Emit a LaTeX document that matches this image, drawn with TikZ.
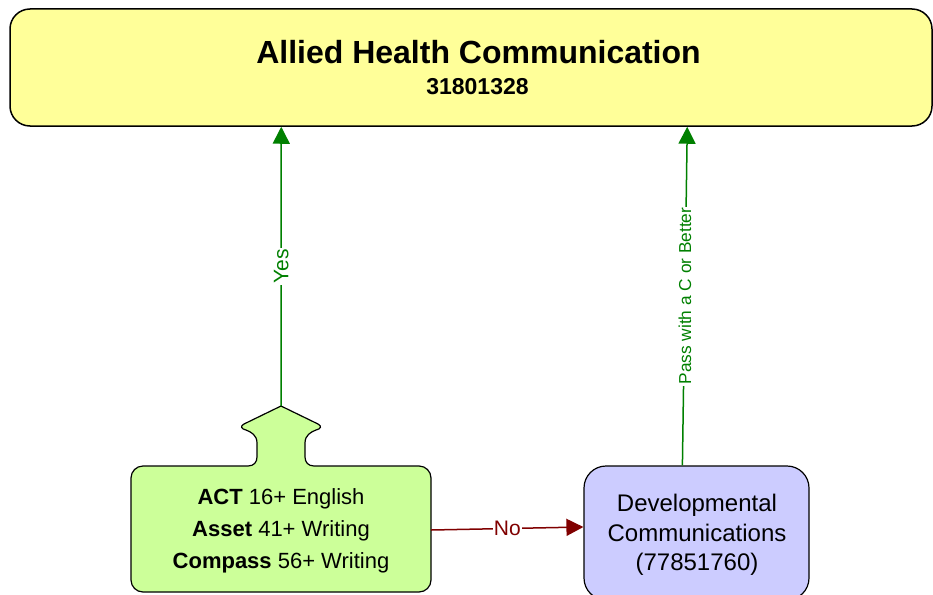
\documentclass[tikz,border=0pt]{standalone}
\usepackage{fontspec}
\setmainfont{Liberation Sans}
\usetikzlibrary{arrows.meta,calc}
\definecolor{topfill}{HTML}{FFFF99}
\definecolor{greenfill}{HTML}{CCFF99}
\definecolor{bluefill}{HTML}{CCCCFF}
\definecolor{yesgreen}{HTML}{008000}
\definecolor{nored}{HTML}{800000}
\tikzset{
  box/.style={draw=black, line width=1.5pt},
  conn/.style={line width=1.5pt, -{Triangle[length=17pt,width=17pt]}},
  lbl/.style={fill=white, inner sep=1pt},
  txt/.style={inner sep=0pt, align=center}
}
\begin{document}
\begin{tikzpicture}[x=1pt,y=-1pt]
\useasboundingbox (0,0) rectangle (933,594);
\clip (0,0) rectangle (933,594);
% top box
\node[box, fill=topfill, rounded corners=20pt, minimum width=922pt, minimum height=117pt, inner sep=0pt] (top) at (471,67.5) {};
\node[txt, anchor=base, font=\fontsize{32}{36}\selectfont\bfseries] (title) at (478.5,63.5) {Allied Health Communication};
\node[txt, anchor=base, font=\fontsize{23}{26}\selectfont\bfseries] (code) at (477.5,94) {31801328};
% green box with tab
\node[minimum width=300pt, minimum height=126pt, inner sep=0pt] (green) at (281,529) {};
\coordinate (tab) at (281,406);
\draw[box, line width=1.2pt, fill=greenfill]
  (248,466) -- (143,466) .. controls (136.4,466) and (131,471.4) .. (131,478)
  -- (131,580) .. controls (131,586.6) and (136.4,592) .. (143,592)
  -- (419,592) .. controls (425.6,592) and (431,586.6) .. (431,580)
  -- (431,478) .. controls (431,471.4) and (425.6,466) .. (419,466)
  -- (314,466) .. controls (308,466) and (305,462) .. (305,457)
  -- (305,443) .. controls (305,435) and (311,432) .. (316,430)
  .. controls (321,429) and (322,426) .. (318,424)
  -- (tab) -- (244,424)
  .. controls (240,426) and (241,429) .. (246,430)
  .. controls (251,432) and (257,435) .. (257,443)
  -- (257,457) .. controls (257,462) and (254,466) .. (248,466) -- cycle;
\node[txt, font=\fontsize{22}{32}\selectfont] (greentext) at (281,531.3)
  {\textbf{ACT} 16+ English\\ \textbf{Asset} 41+ Writing\\ \textbf{Compass} 56+ Writing};
% blue box
\node[box, line width=1.2pt, fill=bluefill, rounded corners=22pt, minimum width=225pt, minimum height=134pt, inner sep=0pt] (blue) at (696.5,533) {};
\node[txt, font=\fontsize{24}{29.5}\selectfont] (bluetext) at (697,534.8)
  {Developmental\\ Communications\\ (77851760)};
% connectors
\draw[conn, yesgreen] (tab) -- ($(top.south west)+(272,0)$)
  node[midway, lbl, rotate=90, font=\fontsize{21}{24}\selectfont] (yes) {Yes};
\draw[conn, yesgreen] ($(blue.north west)+(99,0)$) -- ($(top.south west)+(678,0)$)
  node[midway, lbl, rotate=90, font=\fontsize{17.3}{20}\selectfont] (pass) {Pass with a C or Better};
\draw[conn, nored] ($(green.east)+(0,1)$) -- ($(blue.west)+(0,-6)$)
  node[midway, lbl, font=\fontsize{21}{24}\selectfont] (no) {No};
\end{tikzpicture}
\end{document}
